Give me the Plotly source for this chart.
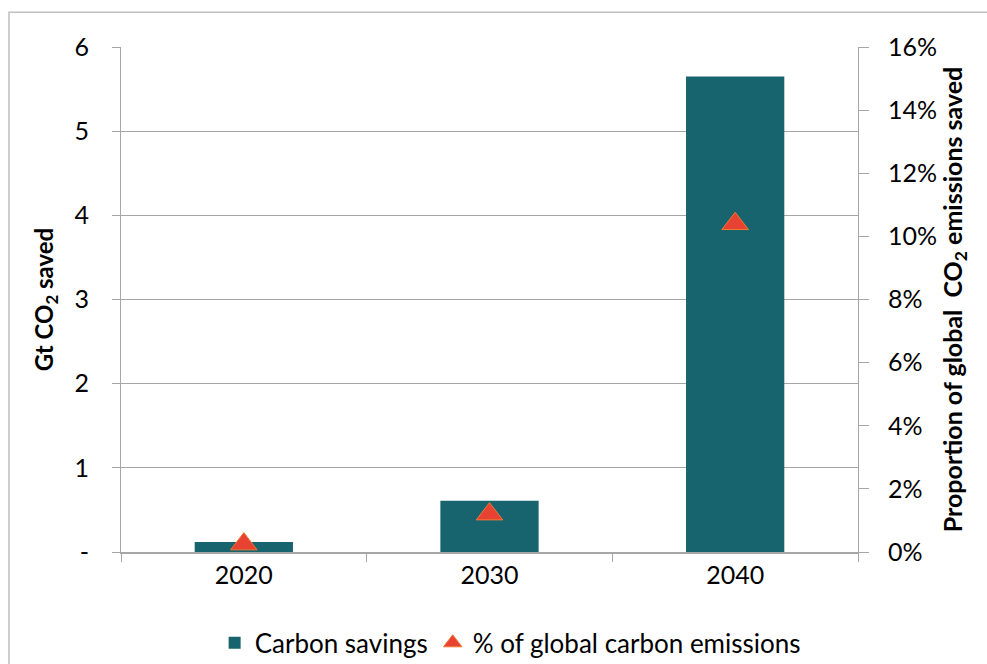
import plotly.graph_objects as go

years = ["2020", "2030", "2040"]
carbon_savings = [0.12, 0.61, 5.65]          # Gt CO2
pct_global = [0.0025, 0.012, 0.104]          # share of global CO2 emissions
left_ticks = [0, 1, 2, 3, 4, 5, 6]
left_labels = ["-", "1", "2", "3", "4", "5", "6"]

teal = "#17636E"
red = "#E84233"
grid = "#A6A6A6"
font = "Lato"

fig = go.Figure()

fig.add_trace(go.Bar(x=years, y=carbon_savings,
                     name="Carbon savings",
                     marker=dict(color=teal, line=dict(width=0)),
                     width=0.4))

fig.add_trace(go.Scatter(x=years, y=pct_global,
                         name="% of global carbon emissions",
                         mode="markers", yaxis="y2",
                         marker=dict(symbol="triangle-up", size=23, color=red,
                                     line=dict(color="#F07A30", width=1))))

fig.update_layout(
    width=987, height=664,
    margin=dict(l=121, r=129, t=47, b=112, autoexpand=False),
    paper_bgcolor="white", plot_bgcolor="white",
    font=dict(family=font, size=25, color="#000000"),
    showlegend=True,
    legend=dict(orientation="h", x=0.528, xanchor="center", y=-0.18, yanchor="middle",
                font=dict(size=26), itemwidth=30, traceorder="normal"),
    xaxis=dict(type="category", tickson="boundaries", ticks="outside", ticklen=8,
               tickcolor=grid, showline=True, linecolor=grid, linewidth=2,
               showgrid=False, tickfont=dict(size=25), automargin=False),
    yaxis=dict(range=[0, 6], tickvals=left_ticks, ticktext=left_labels,
               ticks="outside", ticklen=8, tickcolor=grid,
               showline=True, linecolor=grid, linewidth=1,
               showgrid=True, gridcolor=grid, gridwidth=1,
               zeroline=False, ticklabelstandoff=18, automargin=False,
               title=dict(text="<b>Gt CO<sub>2</sub> saved</b>", font=dict(size=24), standoff=14)),
    yaxis2=dict(range=[0, 0.16], dtick=0.02, tickformat=".0%", overlaying="y", side="right",
                ticks="outside", ticklen=10, tickcolor=grid,
                showline=True, linecolor=grid, linewidth=1,
                showgrid=False, zeroline=False, ticklabelstandoff=14, automargin=False,
                title=dict(text="<b>Proportion of global  CO<sub>2</sub> emissions saved</b>",
                           font=dict(size=25), standoff=8)),
    shapes=[dict(type="rect", xref="paper", yref="paper",
                 x0=-0.152, x1=1.2, y0=-0.3, y1=1.069,
                 line=dict(color="#BFBFBF", width=1.5), layer="below")],
)

# drop the page's default body margin so the figure sits at the window origin
fig.write_html("out.html", config={"displayModeBar": False},
               post_script="document.body.style.margin='0';")
